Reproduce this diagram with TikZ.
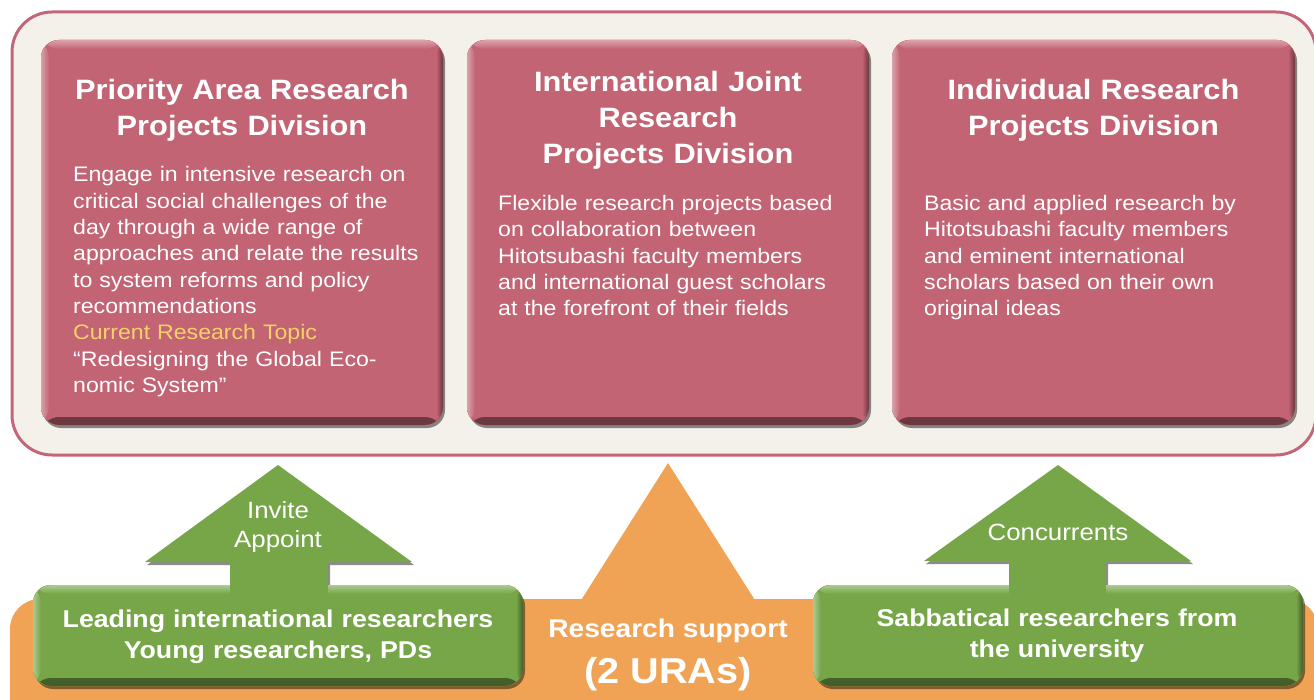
\documentclass[tikz,border=0pt]{standalone}
\usepackage{fontspec}
\setmainfont{Liberation Sans}[FakeStretch=1.1]
\usetikzlibrary{shadows}
\definecolor{pinkc}{HTML}{C26474}
\definecolor{framec}{HTML}{C4667A}
\definecolor{creamc}{HTML}{F4F1EA}
\definecolor{greenc}{HTML}{76A648}
\definecolor{orangec}{HTML}{F1A355}
\definecolor{yellowc}{HTML}{F6D16A}
\begin{document}
\begin{tikzpicture}[x=1pt,y=-1pt,
  frame/.style={draw=framec, line width=3pt, fill=creamc, rounded corners=40pt, inner sep=0pt,
    minimum width=1304pt, minimum height=443pt},
  bevel/.style={path picture={
    \fill[bottom color=#1!55!black, top color=#1] ([yshift=8pt]path picture bounding box.south west) rectangle (path picture bounding box.south east);
    \fill[right color=#1!55!black, left color=#1] ([xshift=-7pt]path picture bounding box.north east) rectangle (path picture bounding box.south east);
    \fill[top color=#1!60!white, bottom color=#1] (path picture bounding box.north west) rectangle ([yshift=-9pt]path picture bounding box.north east);
    \fill[left color=#1!60!white, right color=#1] (path picture bounding box.north west) rectangle ([xshift=8pt]path picture bounding box.south west);
  }},
  pinkbox/.style={fill=pinkc, rounded corners=18pt, inner sep=0pt, minimum height=385pt,
    drop shadow={shadow xshift=2pt, shadow yshift=-3pt, fill=black, opacity=0.45}, bevel=pinkc},
  greenbox/.style={fill=greenc, rounded corners=18pt, inner sep=0pt, minimum width=490pt, minimum height=101pt,
    drop shadow={shadow xshift=2pt, shadow yshift=-3pt, fill=black, opacity=0.45}, bevel=greenc},
  arrowshadow/.style={drop shadow={shadow xshift=2pt, shadow yshift=-3pt, fill=black, opacity=0.45}},
  title/.style={text=white, font=\bfseries\fontsize{28}{36}\selectfont, align=center, inner sep=0pt, text width=400pt, anchor=base},
  body/.style={text=white, font=\fontsize{21}{26.3}\selectfont, align=left, inner sep=0pt, text width=380pt, anchor=base west},
  gtext/.style={text=white, font=\bfseries\fontsize{24.3}{30.5}\selectfont, align=center, inner sep=0pt, text width=480pt, anchor=base},
  atext/.style={text=white, font=\fontsize{23.5}{29}\selectfont, align=center, inner sep=0pt, text width=200pt, anchor=base}
]
\useasboundingbox (0,0) rectangle (1314,700);
\clip (0,0) rectangle (1314,700);

% outer frame
\node[frame] (frame) at (664,233.5) {};

% pink division boxes
\node[pinkbox, minimum width=402pt] (p1) at (242,232.5) {};
\node[pinkbox, minimum width=402pt] (p2) at (668,232.5) {};
\node[pinkbox, minimum width=403pt] (p3) at (1093.5,232.5) {};

% box 1 texts
\node[title] (t1) at (242,99.5) {Priority Area Research\\Projects Division};
\node[body] (b1) at (73,182) {Engage in intensive research on\\
critical social challenges of the\\
day through a wide range of\\
approaches and relate the results\\
to system reforms and policy\\
recommendations\\
\textcolor{yellowc}{Current Research Topic}\\
“Redesigning the Global Eco-\\
nomic System”};

% box 2 texts
\node[title] (t2) at (668,91.5) {International Joint\\Research\\Projects Division};
\node[body] (b2) at (498,210.5) {Flexible research projects based\\
on collaboration between\\
Hitotsubashi faculty members\\
and international guest scholars\\
at the forefront of their fields};

% box 3 texts
\node[title] (t3) at (1093.5,99.5) {Individual Research\\Projects Division};
\node[body] (b3) at (924,210.5) {Basic and applied research by\\
Hitotsubashi faculty members\\
and eminent international\\
scholars based on their own\\
original ideas};

% orange support bar and triangle
\node[fill=orangec, rounded corners=30pt, inner sep=0pt, minimum width=1308pt, minimum height=141pt] (bar) at (664,669.5) {};
\fill[orangec] (668,463) -- (758,605) -- (578,605) -- cycle;
\node[text=white, font=\bfseries\fontsize{25.6}{30}\selectfont, anchor=base, inner sep=0pt] (rs) at (668,637.5) {Research support};
\node[text=white, font=\bfseries\fontsize{36}{40}\selectfont, anchor=base, inner sep=0pt] (ura) at (668,683) {(2 URAs)};

% left green arrow and box
\fill[greenc, arrowshadow] (278,465) -- (412,562) -- (328,562) -- (328,590) -- (230,590) -- (230,562) -- (145,562) -- cycle;
\node[greenbox] (g1) at (278,635.5) {};
\fill[greenc] (230,575) rectangle (328,596);
\node[atext] (a1) at (278,518) {Invite\\Appoint};
\node[gtext] (gt1) at (278,627.5) {Leading international researchers\\Young researchers, PDs};

% right green arrow and box
\fill[greenc, arrowshadow] (1058,465) -- (1191,561) -- (1106,561) -- (1106,590) -- (1009,590) -- (1009,561) -- (924,561) -- cycle;
\node[greenbox] (g2) at (1058,635.5) {};
\fill[greenc] (1009,575) rectangle (1106,596);
\node[atext] (a2) at (1058,540.5) {Concurrents};
\node[gtext] (gt2) at (1057,626.5) {Sabbatical researchers from\\the university};
\end{tikzpicture}
\end{document}
